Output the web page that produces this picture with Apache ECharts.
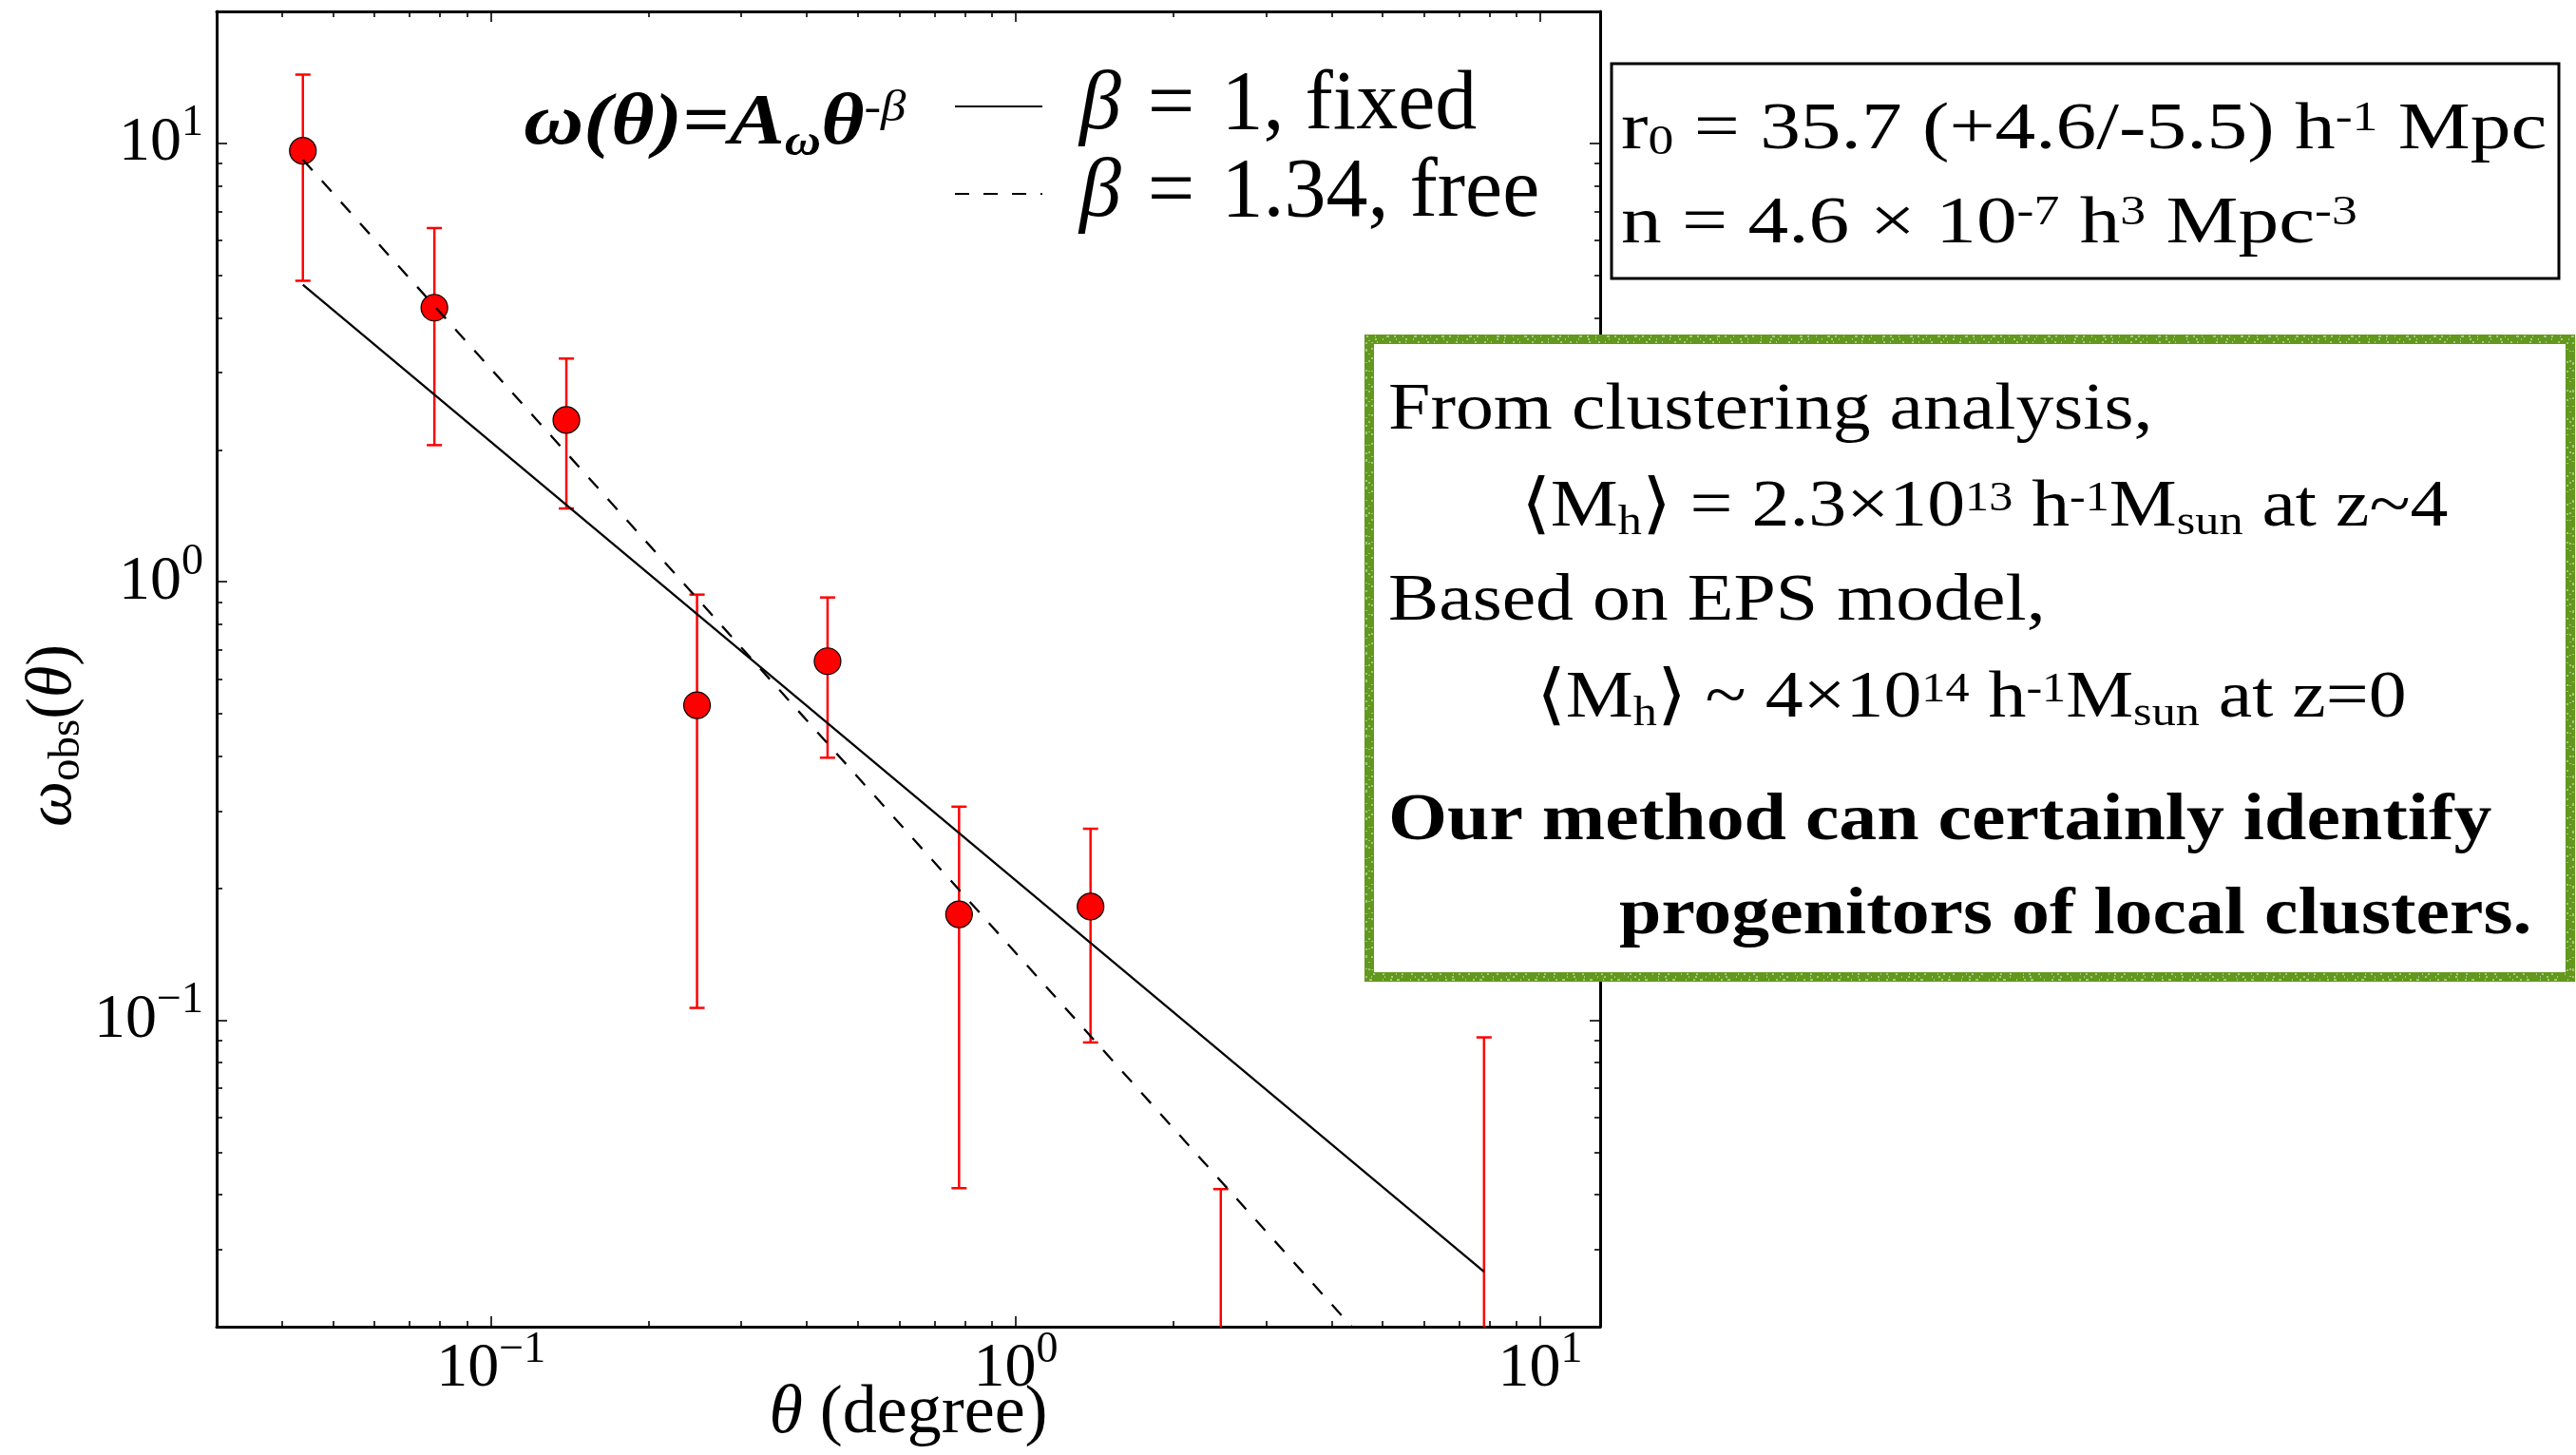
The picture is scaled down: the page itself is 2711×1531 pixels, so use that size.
<!DOCTYPE html>
<html>
<head>
<meta charset="utf-8">
<script src="https://cdn.jsdelivr.net/npm/echarts@6/dist/echarts.min.js"></script>
<style>
  html, body { margin: 0; padding: 0; background: #fff; }
  #chart { width: 2711px; height: 1531px; }
</style>
</head>
<body>
<div id="chart"></div>
<script>
// Angular correlation function of the sample: bin centres (degree),
// measured omega_obs and the upper / lower ends of the error bars.
// The last two bins have no point inside the plotted range; their
// bars run off the bottom of the axis (lower end = null).
const thetaDeg  = [0.0438, 0.0780, 0.1392, 0.247, 0.438, 0.780, 1.389, 2.46, 7.81];
const omegaObs  = [9.62, 4.22, 2.34, 0.523, 0.659, 0.1744, 0.1817, null, null];
const errUpper  = [14.35, 6.41, 3.23, 0.935, 0.921, 0.307, 0.2734, 0.0412, 0.0914];
const errLower  = [4.86, 2.05, 1.47, 0.1067, 0.397, 0.0414, 0.0890, null, null];

// Power-law fits, end points [theta, omega]
const fixedFit = [[0.0438, 4.76], [7.81, 0.0267]];
const freeFit  = [[0.0438, 9.18], [4.37, 0.0200]];
const fitNames = ['β = 1, fixed', 'β = 1.34, free'];

// Axis ranges and decade ticks
const xRange = [0.03, 13];
const yRange = [0.02, 20];
const decadeTicks = [0.1, 1, 10];

// minor ticks at 2..9 x 10^k inside each range
function minorTicks(range) {
  const out = [];
  for (let k = -3; k <= 2; k++) {
    for (let m = 2; m <= 9; m++) {
      const v = +(m * Math.pow(10, k)).toPrecision(3);
      if (v > range[0] && v < range[1]) out.push(v);
    }
  }
  return out;
}

const SERIF = 'Liberation Serif';
const GREEN = '#61981d';

function tok(size, extra) {
  return Object.assign({ fontFamily: SERIF, fontSize: size, color: '#000', verticalAlign: 'middle' }, extra || {});
}

// "10^k" tick labels
const tickRich = {
  b: tok(66, { lineHeight: 66 }),
  s: tok(46, { lineHeight: 10, padding: [0, 0, 41, 0] })
};
function powLabel(v) {
  const e = Math.round(Math.log10(v));
  return '{b|10}{s|' + (e < 0 ? '\u2212' + (-e) : e) + '}';
}

function xAxisDef(position, ticks, len, major) {
  return {
    type: 'log', logBase: 10, gridIndex: 0, position: position,
    min: xRange[0], max: xRange[1], silent: true,
    axisLine: { show: major, onZero: false, lineStyle: { color: '#000', width: 3 } },
    axisTick: { show: true, inside: true, length: len, customValues: ticks,
                lineStyle: { color: '#000', width: 1.6 } },
    axisLabel: { show: major && position === 'bottom', customValues: decadeTicks,
                 margin: 12, formatter: powLabel, rich: tickRich },
    splitLine: { show: false }
  };
}
function yAxisDef(position, ticks, len, major) {
  return {
    type: 'log', logBase: 10, gridIndex: 0, position: position,
    min: yRange[0], max: yRange[1], silent: true,
    axisLine: { show: major, onZero: false, lineStyle: { color: '#000', width: 3 } },
    axisTick: { show: true, inside: true, length: len, customValues: ticks,
                lineStyle: { color: '#000', width: 1.6 } },
    axisLabel: { show: major && position === 'left', customValues: decadeTicks,
                 margin: 14, formatter: powLabel, rich: tickRich },
    splitLine: { show: false }
  };
}

const xAxes = [
  xAxisDef('bottom', decadeTicks, 11, true),
  xAxisDef('bottom', minorTicks(xRange), 6, false),
  xAxisDef('top', decadeTicks, 11, true),
  xAxisDef('top', minorTicks(xRange), 6, false)
];
Object.assign(xAxes[0], {
  name: '{t|θ}{p| (degree)}',
  nameLocation: 'middle',
  nameGap: 56,
  nameMoveOverlap: false,
  nameTextStyle: { rich: {
    t: tok(72, { fontStyle: 'italic', lineHeight: 72 }),
    p: tok(72, { lineHeight: 72 })
  } }
});

const yAxes = [
  yAxisDef('left', decadeTicks, 11, true),
  yAxisDef('left', minorTicks(yRange), 6, false),
  yAxisDef('right', decadeTicks, 11, true),
  yAxisDef('right', minorTicks(yRange), 6, false)
];
Object.assign(yAxes[0], {
  name: '{w|ω}{o|obs}{p|(}{w|θ}{p|)}',
  nameLocation: 'middle',
  nameRotate: 90,
  nameGap: 139,
  nameMoveOverlap: false,
  nameTextStyle: {
    padding: [0, 140, 0, 0],
    rich: {
      w: tok(68, { fontStyle: 'italic', lineHeight: 66 }),
      p: tok(68, { lineHeight: 66 }),
      o: tok(47, { lineHeight: 10, padding: [30, 0, 0, 0] })
    }
  }
});

// error bars: vertical stem with caps
function renderErrorBar(params, api) {
  const x = api.value(0);
  const hi = api.value(1);
  const lo = api.value(2);
  const hasLo = !isNaN(lo) && lo > 0;
  const pTop = api.coord([x, hi]);
  const pBot = api.coord([x, hasLo ? lo : yRange[0]]);
  const half = 8;
  const style = { stroke: '#ff0000', lineWidth: 2.5 };
  const children = [
    { type: 'line', shape: { x1: pTop[0], y1: pTop[1], x2: pBot[0], y2: pBot[1] }, style: style },
    { type: 'line', shape: { x1: pTop[0] - half, y1: pTop[1], x2: pTop[0] + half, y2: pTop[1] }, style: style }
  ];
  if (hasLo) {
    children.push({ type: 'line', shape: { x1: pBot[0] - half, y1: pBot[1], x2: pBot[0] + half, y2: pBot[1] }, style: style });
  }
  return { type: 'group', children: children };
}

const errData = thetaDeg.map((t, i) => [t, errUpper[i], errLower[i] == null ? '-' : errLower[i]]);
const pointData = thetaDeg.map((t, i) => [t, omegaObs[i]]).filter(d => d[1] != null);

// annotation text (right-hand panels and model formula)
function slideText(x, y, sx, text, rich) {
  return { type: 'text', z: 60, x: x, y: y, scaleX: sx,
           style: { text: text, rich: rich, align: 'left', verticalAlign: 'middle',
                    textAlign: 'left', textVerticalAlign: 'middle' } };
}
const boxRich = {
  n: tok(70, { lineHeight: 80 }),
  sp: tok(44, { lineHeight: 10, padding: [0, 0, 26, 0] }),
  sb: tok(44, { lineHeight: 10, padding: [24, 0, 0, 0] })
};
const greenRich = {
  n: tok(70, { lineHeight: 80 }),
  b: tok(70, { lineHeight: 80, fontWeight: 'bold' }),
  sp: tok(44, { lineHeight: 10, padding: [0, 0, 20, 0] }),
  sb: tok(44, { lineHeight: 10, padding: [30, 0, 0, 0] })
};
const formulaRich = {
  m: tok(76, { lineHeight: 80, fontWeight: 'bold', fontStyle: 'italic' }),
  sb: tok(46, { lineHeight: 10, fontWeight: 'bold', fontStyle: 'italic', padding: [40, 0, 0, 0] }),
  sp: tok(46, { lineHeight: 10, fontStyle: 'italic', padding: [0, 0, 32, 0] })
};

// green frame with a speckled, chalk-like edge
const greenShape = { x: 1441, y: 357, width: 1264, height: 671 };
function speckle(inset, dash, offset) {
  return { type: 'rect', z: 55, silent: true,
           shape: { x: greenShape.x + inset, y: greenShape.y + inset,
                    width: greenShape.width - 2 * inset, height: greenShape.height - 2 * inset },
           style: { fill: 'none', stroke: '#ffffff', lineWidth: 1.4, opacity: 0.6,
                    lineDash: dash, lineDashOffset: offset } };
}

const graphics = [
  { type: 'rect', z: 50, shape: { x: 1696, y: 67, width: 997, height: 226 },
    style: { fill: '#fff', stroke: '#000', lineWidth: 3 } },
  { type: 'rect', z: 50, shape: greenShape,
    style: { fill: '#fff', stroke: GREEN, lineWidth: 10 } },
  speckle(-3, [2, 7, 1, 11, 3, 5], 0),
  speckle(0, [1, 9, 2, 6, 1, 13], 4),
  speckle(3, [2, 5, 1, 12, 2, 8], 2),
  slideText(551, 131, 1.15, '{m|ω(θ)=A}{sb|ω}{m|θ}{sp|-β}', formulaRich),
  slideText(1706, 138, 1.22, '{n|r}{sb|0}{n| = 35.7 (+4.6/-5.5) h}{sp|-1}{n| Mpc}', boxRich),
  slideText(1706, 237, 1.22, '{n|n = 4.6 × 10}{sp|-7}{n| h}{sp|3}{n| Mpc}{sp|-3}', boxRich),
  slideText(1461, 433, 1.14, '{n|From clustering analysis,}', greenRich),
  slideText(1601, 535, 1.14, '{n|⟨M}{sb|h}{n|⟩ = 2.3×10}{sp|13}{n| h}{sp|-1}{n|M}{sb|sun}{n| at z~4}', greenRich),
  slideText(1461, 634, 1.14, '{n|Based on EPS model,}', greenRich),
  slideText(1617, 736, 1.14, '{n|⟨M}{sb|h}{n|⟩ ~ 4×10}{sp|14}{n| h}{sp|-1}{n|M}{sb|sun}{n| at z=0}', greenRich),
  slideText(1461, 865, 1.14, '{b|Our method can certainly identify}', greenRich),
  slideText(1704, 964, 1.14, '{b|progenitors of local clusters.}', greenRich)
];

const legendRich = {
  g: tok(88, { lineHeight: 80, fontStyle: 'italic', padding: [0, 0, 0, 34] }),
  e: tok(88, { lineHeight: 80, padding: [0, 28, 0, 28] }),
  t: tok(88, { lineHeight: 80 })
};

const option = {
  animation: false,
  backgroundColor: '#fff',
  grid: { left: 228, top: 12, width: 1456, height: 1384, containLabel: false, outerBoundsMode: 'none' },
  xAxis: xAxes,
  yAxis: yAxes,
  legend: {
    show: true, orient: 'vertical', left: 1004, top: 68, padding: 0,
    itemWidth: 92, itemHeight: 20, itemGap: 4, selectedMode: false,
    data: fitNames,
    itemStyle: { opacity: 0 },
    formatter: function (name) {
      const parts = name.split(' = ');
      return '{g|' + parts[0] + '}{e|=}{t|' + parts[1] + '}';
    },
    textStyle: { rich: legendRich, lineHeight: 80 }
  },
  graphic: { elements: graphics },
  series: [
    {
      type: 'custom', name: 'error', xAxisIndex: 0, yAxisIndex: 0, z: 2,
      renderItem: renderErrorBar, data: errData, silent: true,
      encode: { x: 0, y: [1, 2] }
    },
    {
      type: 'scatter', name: 'omega', xAxisIndex: 0, yAxisIndex: 0, z: 3,
      symbol: 'circle', symbolSize: 28, data: pointData, silent: true,
      itemStyle: { color: '#ff0000', borderColor: '#000', borderWidth: 1.2, opacity: 1 }
    },
    {
      type: 'line', name: fitNames[0], xAxisIndex: 0, yAxisIndex: 0, z: 4,
      data: fixedFit, symbol: 'none', showSymbol: false, silent: true,
      lineStyle: { color: '#000', width: 2.3, type: 'solid' }, itemStyle: { color: '#000', opacity: 0 }
    },
    {
      type: 'line', name: fitNames[1], xAxisIndex: 0, yAxisIndex: 0, z: 4,
      data: freeFit, symbol: 'none', showSymbol: false, silent: true,
      lineStyle: { color: '#000', width: 2.3, type: [15, 15] }, itemStyle: { color: '#000', opacity: 0 }
    }
  ]
};

const chart = echarts.init(document.getElementById('chart'), null, { renderer: 'canvas' });
chart.setOption(option);
</script>
</body>
</html>
